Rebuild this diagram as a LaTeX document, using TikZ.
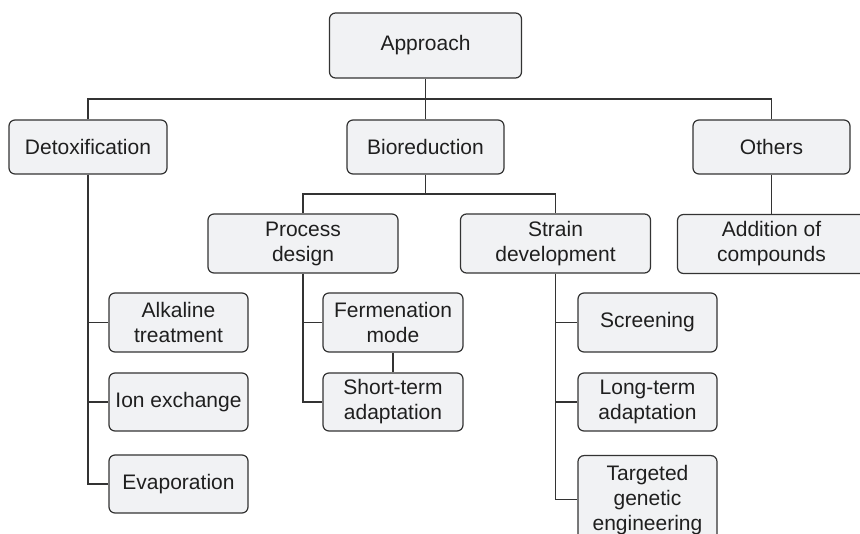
\documentclass[tikz,border=0pt]{standalone}
\usepackage{fontspec}
\setmainfont{Liberation Sans}
\begin{document}
\begin{tikzpicture}[x=1pt,y=-1pt,
  box/.style={draw=black!80, fill=boxfill, rounded corners=6pt, line width=1.2pt,
    align=center, inner sep=0pt, text=black!88,
    font=\fontsize{21}{25}\selectfont},
  link/.style={draw=black!80, line width=1.2pt}]
\definecolor{boxfill}{HTML}{F1F2F4}
\useasboundingbox (0,0) rectangle (860,534);
\clip (0,0) rectangle (860,534);

% top level
\node[box, minimum width=192pt, minimum height=65pt] (app) at (425.5,45.5) {Approach};

% second level
\node[box, minimum width=158pt, minimum height=54pt] (det) at (88,147) {Detoxification};
\node[box, minimum width=157pt, minimum height=54pt] (bio) at (425.5,147) {Bioreduction};
\node[box, minimum width=157pt, minimum height=54pt] (oth) at (771.5,147) {Others};

% third level
\node[box, minimum width=190pt, minimum height=59pt] (pro) at (303,243.5) {Process\\design};
\node[box, minimum width=190pt, minimum height=59pt] (str) at (555.5,243.5) {Strain\\development};
\node[box, minimum width=188pt, minimum height=59pt] (add) at (771.5,244) {Addition of\\compounds};

% detoxification methods
\node[box, minimum width=139pt, minimum height=59pt] (alk) at (178.5,322.5) {Alkaline\\treatment};
\node[box, minimum width=139pt, minimum height=58pt] (ion) at (178.5,402) {Ion exchange};
\node[box, minimum width=139pt, minimum height=58pt] (eva) at (178.5,484) {Evaporation};

% process design options
\node[box, minimum width=140pt, minimum height=59pt] (fer) at (393,322.5) {Fermenation\\mode};
\node[box, minimum width=140pt, minimum height=58pt] (sho) at (393,402) {Short-term\\adaptation};

% strain development options
\node[box, minimum width=139pt, minimum height=59pt] (scr) at (647.5,322.5) {Screening};
\node[box, minimum width=139pt, minimum height=58pt] (lon) at (647.5,402) {Long-term\\adaptation};
\node[box, minimum width=139pt, minimum height=88pt, anchor=north] (tar) at (647.5,455) {Targeted\\genetic\\engineering};

% connectors
\coordinate (bus1) at (425.5,99);
\coordinate (bus2) at (425.5,194);
\path[link] (app.south) -- (bio.north);
\path[link] (det.north) |- (bus1) -| (oth.north);
\path[link] (bio.south) -- (bus2);
\path[link] (pro.north) |- (bus2) -| (str.north);
\path[link] (oth.south) -- (add.north);

\path[link] (det.south) |- (eva.west);
\path[link] (det.south) |- (alk.west);
\path[link] (det.south) |- (ion.west);

\path[link] (pro.south) |- (sho.west);
\path[link] (pro.south) |- (fer.west);
\path[link] (fer.south) -- (sho.north);

\path[link] (str.south) |- (tar.west);
\path[link] (str.south) |- (scr.west);
\path[link] (str.south) |- (lon.west);
\end{tikzpicture}
\end{document}
